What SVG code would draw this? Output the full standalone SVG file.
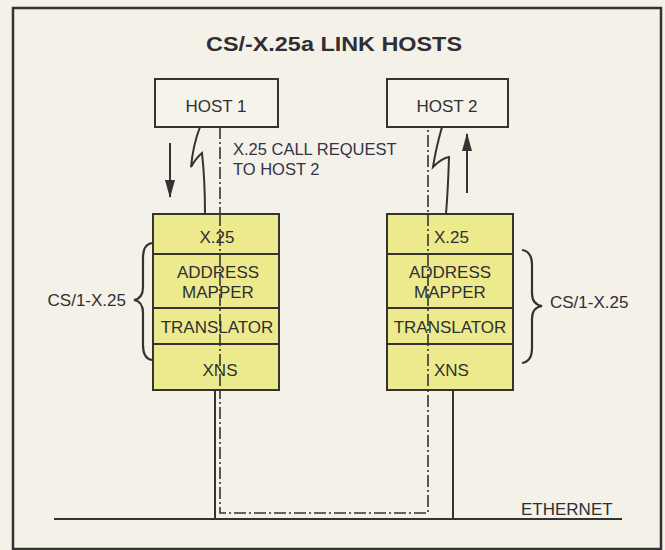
<svg xmlns="http://www.w3.org/2000/svg" width="665" height="550" viewBox="0 0 665 550">
<defs>
<style>
.t{font-family:"Liberation Sans",Arial,sans-serif;fill:#2f2f33;}
.box{fill:#f6f3ea;stroke:#333;stroke-width:2;}
.layer{fill:#ecea8c;stroke:#333;stroke-width:2;}
.ln{fill:none;stroke:#333;stroke-width:2;}
.dd{fill:none;stroke:#333;stroke-width:1.6;stroke-dasharray:12 3 2 3;}
.br{fill:none;stroke:#333;stroke-width:2.2;}
</style>
<marker id="ah" viewBox="0 0 18 10" refX="17" refY="5" markerWidth="18" markerHeight="10" markerUnits="userSpaceOnUse" orient="auto">
<path d="M0,0 L18,5 L0,10 z" fill="#333"/>
</marker>
</defs>
<rect x="0" y="0" width="665" height="550" fill="#f4f1e8"/>
<rect x="13" y="8" width="648" height="541" fill="none" stroke="#333" stroke-width="2.5"/>
<text class="t" x="334" y="51" font-size="20" font-weight="bold" text-anchor="middle" textLength="256" lengthAdjust="spacingAndGlyphs">CS/-X.25a LINK HOSTS</text>

<g id="connectors">
<path class="dd" d="M220,127 L220,513 L428,513 L428,127"/>
<line class="ln" x1="215" y1="390" x2="215" y2="519"/>
<line class="ln" x1="453" y1="390" x2="453" y2="519"/>
<line class="ln" x1="54" y1="519" x2="622" y2="519"/>
<path class="ln" d="M200,127 Q193,145 191,167 Q196,158 202,153 Q205,180 205,214" stroke-width="1.6"/>
<path class="ln" d="M442,127 Q436,148 433,167 Q442,158 449,157 Q448,190 446,214" stroke-width="1.6"/>
<line x1="170" y1="143" x2="170" y2="197" stroke="#333" stroke-width="2" marker-end="url(#ah)"/>
<line x1="467" y1="193" x2="467" y2="134" stroke="#333" stroke-width="2" marker-end="url(#ah)"/>
</g>

<g id="host1">
<rect class="box" x="155" y="79" width="123" height="48"/>
<text class="t" x="216" y="112" font-size="17" text-anchor="middle">HOST 1</text>
</g>
<g id="host2">
<rect class="box" x="387" y="79" width="121" height="48"/>
<text class="t" x="447" y="112" font-size="17" text-anchor="middle">HOST 2</text>
</g>

<g id="call-label">
<text class="t" x="233" y="155" font-size="16.5" style="fill:#33334a">X.25 CALL REQUEST</text>
<text class="t" x="233" y="175" font-size="16.5" style="fill:#33334a">TO HOST 2</text>
</g>

<g id="stack1">
<rect class="layer" x="153" y="214" width="126" height="40"/>
<rect class="layer" x="153" y="254" width="126" height="54"/>
<rect class="layer" x="153" y="308" width="126" height="36"/>
<rect class="layer" x="153" y="344" width="126" height="46"/>
<line class="dd" x1="220" y1="214" x2="220" y2="390"/>
<text class="t" x="217" y="243" font-size="17" text-anchor="middle">X.25</text>
<text class="t" x="218" y="278" font-size="17" text-anchor="middle">ADDRESS</text>
<text class="t" x="218" y="298" font-size="17" text-anchor="middle">MAPPER</text>
<text class="t" x="217" y="333" font-size="17" text-anchor="middle">TRANSLATOR</text>
<text class="t" x="220" y="376" font-size="17" text-anchor="middle">XNS</text>
</g>

<g id="stack2">
<rect class="layer" x="387" y="214" width="126" height="40"/>
<rect class="layer" x="387" y="254" width="126" height="54"/>
<rect class="layer" x="387" y="308" width="126" height="36"/>
<rect class="layer" x="387" y="344" width="126" height="46"/>
<line class="dd" x1="428" y1="214" x2="428" y2="390"/>
<text class="t" x="434" y="243" font-size="17">X.25</text>
<text class="t" x="450" y="278" font-size="17" text-anchor="middle">ADDRESS</text>
<text class="t" x="450" y="298" font-size="17" text-anchor="middle">MAPPER</text>
<text class="t" x="450" y="333" font-size="17" text-anchor="middle">TRANSLATOR</text>
<text class="t" x="434" y="376" font-size="17">XNS</text>
</g>

<g id="brace1">
<path class="br" d="M152,243 C145,244 143,250 143,258 L143,287 C143,295 140,299 134,300 C140,301 143,305 143,313 L143,345 C143,353 145,359 152,360"/>
<text class="t" x="126" y="306" font-size="17" text-anchor="end">CS/1-X.25</text>
</g>
<g id="brace2">
<path class="br" d="M522,250 C529,251 532,257 532,265 L532,293 C532,301 535,305 542,306 C535,307 532,311 532,319 L532,348 C532,356 529,362 522,363"/>
<text class="t" x="550" y="308" font-size="17">CS/1-X.25</text>
</g>

<g id="ethernet-label">
<text class="t" x="521" y="515" font-size="17">ETHERNET</text>
</g>
</svg>
